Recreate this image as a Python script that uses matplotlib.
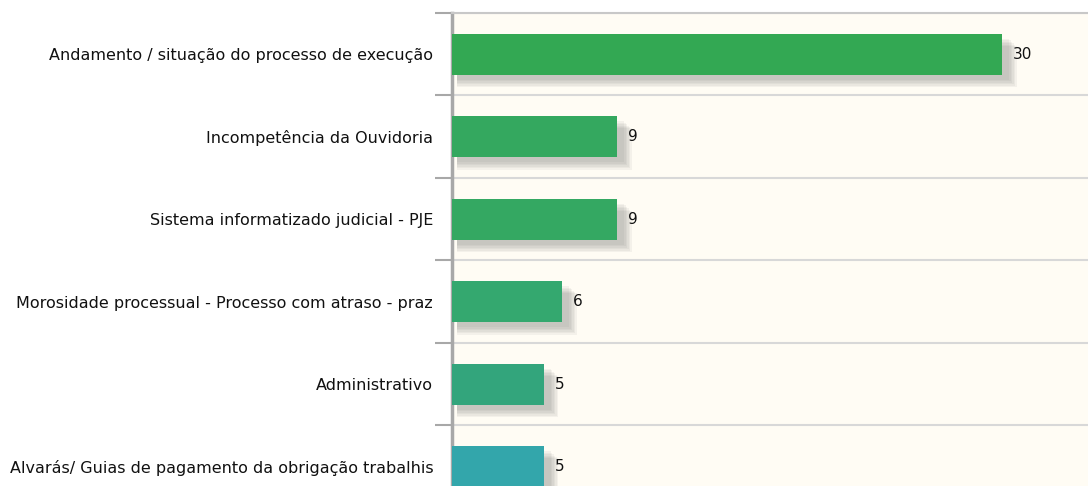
import numpy as np
import matplotlib.pyplot as plt
from matplotlib.ticker import FixedLocator

categories = [
    "Andamento / situação do processo de execução",
    "Incompetência da Ouvidoria",
    "Sistema informatizado judicial - PJE",
    "Morosidade processual - Processo com atraso - praz",
    "Administrativo",
    "Alvarás/ Guias de pagamento da obrigação trabalhis",
]
values = [30, 9, 9, 6, 5, 5]
colors = ["#33a853", "#34a85f", "#34a862", "#34a86f", "#33a57c", "#33a6ab"]

fig = plt.figure(figsize=(10.88, 4.86), dpi=100)
ax = fig.add_axes([452 / 1088, 1 - 508 / 486, 1 - 452 / 1088, 495 / 486])
ax.set_facecolor("#fffcf4")

y = np.arange(len(categories))

# soft shadow under the bars (layered offsets to fake a blur)
for k in range(6):
    dx = 0.15 + 0.08 * k
    dy = 0.06 + 0.018 * k
    ax.barh(y + dy, np.array(values) + dx, height=0.5, left=0.25,
            color="#6a6a6a", alpha=0.07, zorder=2, linewidth=0)

ax.barh(y, values, height=0.5, color=colors, zorder=3, linewidth=0)

for yi, v in zip(y, values):
    ax.text(v + 0.6, yi, str(v), va="center", ha="left", fontsize=11, color="#111111", zorder=4)

ax.set_ylim(len(categories) - 0.5, -0.5)
ax.set_xlim(0, 34.7)
ax.set_yticks(y)
ax.set_yticklabels(categories, fontsize=11.5, color="#111111")
ax.tick_params(axis="y", which="major", length=0, pad=13.5)
ax.yaxis.set_minor_locator(FixedLocator(np.arange(-0.5, len(categories), 1.0)))
ax.tick_params(axis="y", which="minor", length=12, width=1.5, color="#a8a8a8", direction="out")
ax.set_xticks([])

ax.grid(True, axis="y", which="minor", color="#d8d8d8", linewidth=1.5, zorder=1)
ax.grid(False, axis="y", which="major")

for s in ["right", "bottom"]:
    ax.spines[s].set_visible(False)
ax.spines["left"].set_color("#a8a8a8")
ax.spines["left"].set_linewidth(2.5)
ax.spines["top"].set_color("#c8c8c8")
ax.spines["top"].set_linewidth(1.5)

fig.savefig("out.png", dpi=100)
